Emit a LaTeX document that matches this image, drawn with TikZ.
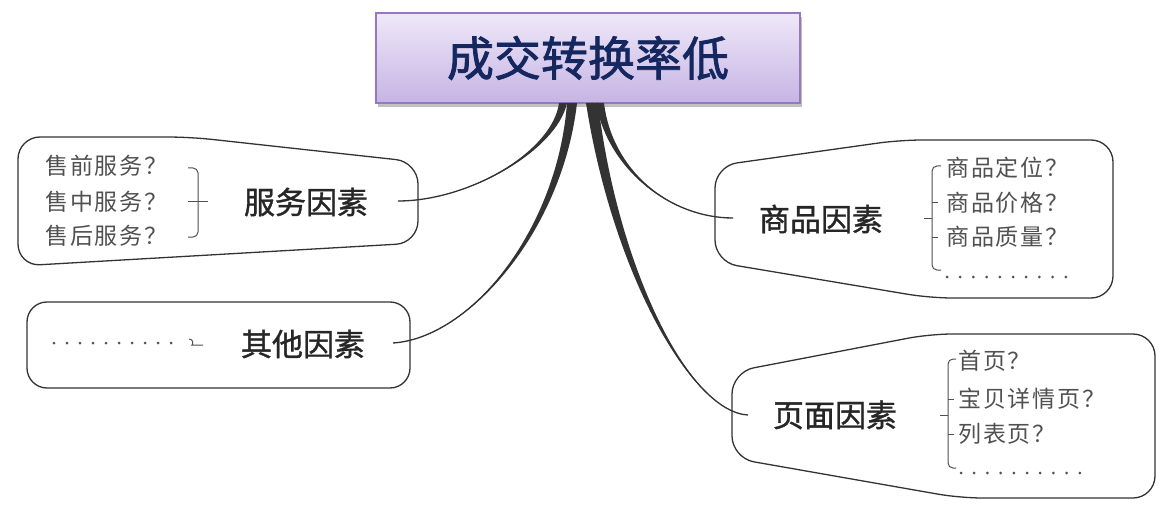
\documentclass[tikz,border=0pt]{standalone}
\usepackage{fontspec}
\newfontfamily\cjk{Noto Sans CJK SC}
\newfontfamily\cjklabel[FakeBold=1.2]{Noto Sans CJK SC}
\newfontfamily\cjktitle[FakeBold=1.6]{Noto Sans CJK SC}
\newfontfamily\cjkitem[LetterSpace=8]{Noto Sans CJK SC}
\usetikzlibrary{calc,shadows}

\definecolor{titletop}{HTML}{EFE8F8}
\definecolor{titlebot}{HTML}{C6B4E4}
\definecolor{titleborder}{HTML}{9578C0}
\definecolor{titlefg}{HTML}{14275F}
\definecolor{linegray}{HTML}{333333}
\definecolor{labelgray}{HTML}{262626}
\definecolor{itemgray}{HTML}{505050}

% tapered branch: start, control 1, control 2, end, half width at start
\newcommand{\taperbranch}[5]{%
  \fill[linegray] ($(#1)+(-#5,0)$) .. controls ($(#2)+(-#5/2,0)$) and (#3) .. (#4)
    .. controls (#3) and ($(#2)+(#5/2,0)$) .. ($(#1)+(#5,0)$) -- cycle;
  \draw[linegray,line width=1.3pt] (#1) .. controls (#2) and (#3) .. (#4);}

\begin{document}
\begin{tikzpicture}[x=1pt,y=-1pt,
  boxline/.style={draw=linegray,line width=1.3pt,rounded corners=22pt},
  factor/.style={font=\cjklabel\fontsize{31}{34}\selectfont,text=labelgray,inner sep=0pt},
  item/.style={font=\cjkitem\fontsize{23}{26}\selectfont,text=itemgray,anchor=west,inner sep=0pt},
  brace/.style={draw=itemgray,line width=1pt,rounded corners=5pt}]
  \useasboundingbox (0,0) rectangle (1167,513);

  % title
  \node[draw=titleborder,line width=1.5pt,top color=titletop,bottom color=titlebot,
        minimum width=424pt,minimum height=90pt,
        drop shadow={shadow xshift=2pt,shadow yshift=-4pt,opacity=0.45,fill=black!55},
        font=\cjktitle\fontsize{47}{50}\selectfont,text=titlefg] (title) at (588,58) {成交转换率低};

  % branch ends
  \coordinate (svcroot) at (563,103);
  \coordinate (othroot) at (572,103);
  \coordinate (gdsroot) at (600,103);
  \coordinate (pgroot) at (592,103);
  \coordinate (svcend) at (398,201);
  \coordinate (othend) at (393,343);
  \coordinate (gdsend) at (733,218);
  \coordinate (pgend) at (748,415);

  % boxes
  \draw[boxline] (18,200) -- (18,137) -- (190,137) -- (418,162) -- (418,243) -- (18,266) -- cycle;
  \draw[boxline,rounded corners=20pt] (27,302) rectangle (410,388);
  \draw[boxline] (715,215) -- (715,166) -- (900,140) -- (1113,140) -- (1113,298) -- (930,298) -- (715,262) -- cycle;
  \draw[boxline] (732,415) -- (732,372) -- (930,334) -- (1155,334) -- (1155,498) -- (960,498) -- (732,458) -- cycle;

  % branches
  \taperbranch{svcroot}{555,150}{470,201}{svcend}{4}
  \taperbranch{othroot}{560,230}{470,338}{othend}{5}
  \taperbranch{gdsroot}{610,170}{670,218}{gdsend}{4}
  \taperbranch{pgroot}{615,270}{690,412}{pgend}{6}

  % factor labels
  \node[factor] (svc) at (306,202) {服务因素};
  \node[factor] (oth) at (303,344) {其他因素};
  \node[factor] (gds) at (821,219) {商品因素};
  \node[factor] (pg) at (835,415) {页面因素};

  % service items
  \node[item] (svc1) at (45,166) {售前服务？};
  \node[item] (svc2) at (45,202) {售中服务？};
  \node[item] (svc3) at (45,236) {售后服务？};
  \draw[brace] (188,168) -- (198,168) -- (198,237) -- (188,237);
  \draw[brace] (188,202) -- (208,202);

  % other items
  \foreach \i in {0,...,9}
    \fill[itemgray] (54+\i*13,343) circle (1.5);
  \draw[brace] (189,339) .. controls (194,339) and (193,345) .. (197,345) -- (203,345);

  % goods items
  \node[item] (gds1) at (946,168) {商品定位？};
  \node[item] (gds2) at (946,203) {商品价格？};
  \node[item] (gds3) at (946,237) {商品质量？};
  \foreach \i in {0,...,9}
    \fill[itemgray] (947+\i*13.2,277) circle (1.5);
  \draw[brace] (941,166) -- (932,166) -- (932,270) -- (941,270);
  \draw[brace] (924,219) -- (932,219);
  \draw[brace] (932,203) -- (938,203);
  \draw[brace] (932,237) -- (938,237);

  % page items
  \node[item] (pg1) at (958,361) {首页？};
  \node[item] (pg2) at (958,399) {宝贝详情页？};
  \node[item] (pg3) at (958,434) {列表页？};
  \foreach \i in {0,...,9}
    \fill[itemgray] (961+\i*13.2,473) circle (1.5);
  \draw[brace] (956,359) -- (948,359) -- (948,468) -- (956,468);
  \draw[brace] (940,415) -- (948,415);
  \draw[brace] (948,399) -- (954,399);
  \draw[brace] (948,434) -- (954,434);
\end{tikzpicture}
\end{document}
